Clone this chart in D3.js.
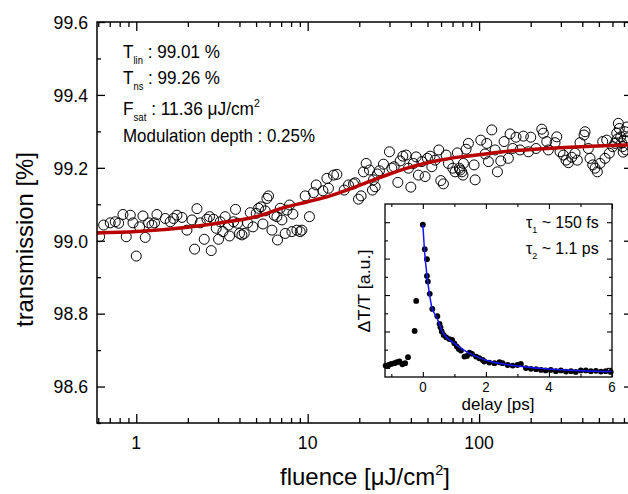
<!DOCTYPE html>
<html><head><meta charset="utf-8">
<script src="https://cdn.jsdelivr.net/npm/d3@7"></script>
<style>
body{margin:0;background:#fff}
svg{display:block}
text{font-family:"Liberation Sans", Arial, Helvetica, sans-serif; fill:#000}
</style>
</head><body>
<svg id="c" width="628" height="494"></svg>
<script>
// ---------- data ----------
const fluence = [0.611,0.645,0.705,0.754,0.789,0.836,0.874,0.923,0.957,1.0,1.045,1.094,1.128,1.18,1.235,1.278,1.32,1.476,1.578,1.65,
1.727,1.847,1.975,2.113,2.188,2.259,2.362,2.492,2.584,2.676,2.737,2.823,2.928,3.02,3.09,3.203,3.30,3.453,3.50,3.693,
3.793,3.896,4.002,4.133,4.264,4.457,4.621,4.792,5.009,5.166,5.335,5.481,5.653,5.783,5.909,6.185,6.379,6.614,6.668,6.915,
7.074,7.395,7.566,7.835,8.09,8.2,8.65,9.04,9.25,9.67,10.24,10.81,11.21,12.27,13.22,12.94,14.15,14.8,16.33,17.3,
18.5,18.9,19.78,20.5,21.94,21.16,22.93,23.87,24.19,24.75,25.53,26.22,27.67,29.99,30.97,31.95,33.57,34.63,35.91,37.53,
38.71,39.97,41.4,42.93,44.26,46.33,48.42,49.94,51.8,52.99,55.39,58.21,59.8,61.92,64.2,66.22,70.25,72.44,74.72,76.75,
77.5,79.3,80.5,81,84,86.6,93.5,94.8,102.3,108.4,110.9,113.3,118.6,124,127.9,133.8,139.9,148.2,151.6,157.2,
164.3,173.4,181.3,193.9,200.2,215,232.1,237.1,248.2,253.6,277.4,283.9,296.7,310.2,321.6,331.7,347.2,362.9,374.3,388.1,
409.5,415.1,433.8,443.8,460.3,474.7,489.6,507.6,526.4,542.9,555.4,575.2,602,620.9,635.2,641,649,657.9,670.3,679,
688.6,693,700.7,710.2,719.8,729.5,734];
const transmission = [99.011,99.043,99.049,99.052,99.048,99.072,99.011,99.070,99.049,98.958,99.038,99.068,99.009,99.049,99.043,99.049,99.072,99.061,99.052,99.061,
99.070,99.064,99.029,99.057,98.977,99.088,99.049,99.004,99.059,99.066,98.973,99.059,99.034,99.004,99.052,99.025,99.066,99.043,99.013,99.052,
99.086,99.048,99.020,99.016,99.020,99.049,99.077,99.038,99.075,99.089,99.093,99.046,99.082,99.116,99.123,99.029,99.070,99.066,99.002,99.089,
99.057,99.020,99.084,99.098,99.025,99.073,99.029,99.025,99.029,99.123,99.066,99.132,99.153,99.137,99.144,99.171,99.180,99.182,99.139,99.153,
99.156,99.159,99.114,99.123,99.212,99.189,99.194,99.139,99.167,99.148,99.183,99.192,99.210,99.244,99.199,99.203,99.160,99.219,99.232,99.235,
99.199,99.147,99.212,99.230,99.180,99.217,99.176,99.226,99.232,99.203,99.221,99.249,99.165,99.156,99.235,99.212,99.199,99.189,99.241,99.199,
99.194,99.189,99.180,99.212,99.251,99.267,99.208,99.167,99.276,99.238,99.267,99.217,99.304,99.249,99.189,99.219,99.272,99.226,99.293,99.253,
99.284,99.249,99.287,99.244,99.284,99.253,99.306,99.295,99.272,99.249,99.269,99.285,99.244,99.235,99.221,99.214,99.229,99.240,99.221,99.269,
99.290,99.299,99.253,99.226,99.208,99.199,99.189,99.212,99.272,99.226,99.276,99.240,99.258,99.267,99.295,99.279,99.322,99.308,99.285,99.268,
99.258,99.243,99.276,99.299,99.249,99.312,99.282];

const fitFluence = [0.59,1,2,3.4,5,7.4,10,13.5,17.7,24,30,38,48,59,78,100,151,200,296,450,780];
const fitTransmission = [99.021,99.025,99.037,99.052,99.066,99.092,99.107,99.123,99.142,99.166,99.183,99.199,99.212,99.221,99.230,99.236,99.246,99.250,99.255,99.259,99.263];

const delay = [-1.18,-1.08,-1.0,-0.9,-0.82,-0.74,-0.65,-0.56,-0.47,-0.26,-0.21,0,0.06,0.13,0.13,0.16,0.22,0.3,0.46,0.53,
0.56,0.6,0.66,0.74,0.84,0.93,1.0,1.08,1.14,1.21,1.32,1.4,1.48,1.56,1.69,1.79,1.9,1.95,2.11,2.27,
2.43,2.53,2.69,2.85,3.0,3.11,3.27,3.43,3.59,3.75,3.9,4.06,4.22,4.38,4.54,4.7,4.85,5.01,5.17,5.33,
5.49,5.65,5.8,5.96];
const dTT = [0.013,0.016,0.022,0.026,0.031,0.035,0.020,0.026,0.059,0.203,0.368,0.786,0.652,0.597,0.505,0.474,0.407,0.324,0.284,0.242,
0.223,0.200,0.181,0.168,0.158,0.154,0.135,0.117,0.104,0.095,0.062,0.066,0.084,0.077,0.062,0.053,0.044,0.035,0.029,0.026,
0.031,0.026,0.016,0.013,0.016,0.022,-0.001,-0.005,-0.007,-0.011,-0.014,-0.011,-0.018,-0.014,-0.020,-0.018,-0.022,-0.014,-0.014,-0.018,
-0.016,-0.020,-0.018,-0.022];
const fitDelay = [0,0.05,0.135,0.21,0.29,0.38,0.47,0.63,0.8,1.0,1.2,1.48,1.8,2.11,2.6,3,4,5,6];
const fitDTT = [0.786,0.652,0.502,0.407,0.33,0.295,0.265,0.195,0.16,0.135,0.108,0.08,0.055,0.036,0.02,0.011,-0.006,-0.015,-0.02];

const yTickValues = [98.6,98.8,99.0,99.2,99.4,99.6];
const xTickValues = [1,10,100];
const insetXTickValues = [0,2,4,6];

// ---------- setup ----------
const svg = d3.select('#c');
const P = {l:97, r:632, t:22, b:423};
const x = d3.scaleLog().domain([0.59, 780]).range([P.l, P.r]);
const y = d3.scaleLinear().domain([98.5, 99.6]).range([P.b, P.t]);

svg.append('defs').append('clipPath').attr('id','pc')
  .append('rect').attr('x',P.l).attr('y',P.t).attr('width',P.r-P.l).attr('height',P.b-P.t);

// text helper with sub/superscripts and width fitting
function label(parts, size, o) {
  const t = svg.append('text').attr('font-size', size).attr('x',0).attr('y',0);
  let cur = 0;
  parts.forEach(p => {
    const kind = p[1] || 'n';
    let off = 0, fs = size;
    if (kind === 'sub') { off = o.subOff || size*0.35; fs = o.subSize || size*0.55; }
    if (kind === 'sup') { off = -(o.supOff || size*0.42); fs = o.supSize || size*0.62; }
    const s = t.append('tspan').text(p[0]).attr('font-size', fs);
    if (off - cur !== 0) s.attr('dy', off - cur);
    cur = off;
  });
  const w = t.node().getComputedTextLength();
  const k = o.width ? o.width / w : (o.k || 1);
  const L = w * k;
  if (o.rotate) {
    t.attr('transform', `translate(${o.x},${o.y + L/2}) rotate(-90) scale(${k},1)`);
  } else {
    const a = o.anchor || 'start';
    const x0 = a === 'middle' ? o.x - L/2 : a === 'end' ? o.x - L : o.x;
    t.attr('transform', `translate(${x0},${o.y}) scale(${k},1)`);
  }
  return t;
}

// ---------- main data ----------
const pts = fluence.map((f,i) => [f, transmission[i]]);
svg.append('g').attr('clip-path','url(#pc)')
  .selectAll('circle').data(pts).join('circle')
  .attr('cx', d => x(d[0])).attr('cy', d => y(d[1])).attr('r', 5)
  .attr('fill','none').attr('stroke','#000').attr('stroke-width',1);

const fit = fitFluence.map((f,i) => [f, fitTransmission[i]]);
svg.append('path').attr('clip-path','url(#pc)')
  .datum(fit)
  .attr('d', d3.line().x(d => x(d[0])).y(d => y(d[1])).curve(d3.curveMonotoneX))
  .attr('fill','none').attr('stroke','#b80000').attr('stroke-width',3.5);

// ---------- main axes ----------
const allX = x.ticks().filter(v => v >= 0.59 && v <= 780);
const minorX = allX.filter(v => !xTickValues.includes(v));
const minorY = d3.range(98.5, 99.61, 0.1).map(v => +v.toFixed(1)).filter(v => !yTickValues.includes(v));

function styleAxis(g) {
  g.select('.domain').remove();
  g.selectAll('line').attr('stroke','#000').attr('stroke-width',1.3);
  g.selectAll('text').remove();
}
// bottom (ticks inward = up)
svg.append('g').attr('transform',`translate(0,${P.b})`)
  .call(d3.axisTop(x).tickValues(xTickValues).tickSize(9).tickFormat('')).call(styleAxis);
svg.append('g').attr('transform',`translate(0,${P.b})`)
  .call(d3.axisTop(x).tickValues(minorX).tickSize(5).tickFormat('')).call(styleAxis);
// top (ticks inward = down)
svg.append('g').attr('transform',`translate(0,${P.t})`)
  .call(d3.axisBottom(x).tickValues(xTickValues).tickSize(9).tickFormat('')).call(styleAxis);
svg.append('g').attr('transform',`translate(0,${P.t})`)
  .call(d3.axisBottom(x).tickValues(minorX).tickSize(5).tickFormat('')).call(styleAxis);
// left (inward = right)
svg.append('g').attr('transform',`translate(${P.l},0)`)
  .call(d3.axisRight(y).tickValues(yTickValues).tickSize(8).tickFormat('')).call(styleAxis);
svg.append('g').attr('transform',`translate(${P.l},0)`)
  .call(d3.axisRight(y).tickValues(minorY).tickSize(4).tickFormat('')).call(styleAxis);
// right (inward = left)
svg.append('g').attr('transform',`translate(${P.r},0)`)
  .call(d3.axisLeft(y).tickValues(yTickValues).tickSize(8).tickFormat('')).call(styleAxis);
svg.append('g').attr('transform',`translate(${P.r},0)`)
  .call(d3.axisLeft(y).tickValues(minorY).tickSize(4).tickFormat('')).call(styleAxis);

svg.append('rect').attr('x',P.l).attr('y',P.t).attr('width',P.r-P.l).attr('height',P.b-P.t)
  .attr('fill','none').attr('stroke','#000').attr('stroke-width',1.5);

// tick labels
yTickValues.forEach(v => label([[v.toFixed(1)]], 19, {x:88, y:y(v)+6.8, anchor:'end', k:0.93}));
xTickValues.forEach(v => label([[String(v)]], 19, {x:x(v), y:449, anchor:'middle', k:0.93}));

// axis titles
label([['fluence ['],['\u03BCJ/cm'],['2','sup'],[']']], 23, {x:365, y:485, anchor:'middle', width:170, supOff:10, supSize:14});
label([['transmission [%]']], 23, {x:33, y:239.5, rotate:true, width:175});

// annotations
label([['T'],['lin','sub'],[' : 99.01 %']], 18, {x:123, y:58, width:97, subOff:6, subSize:10});
label([['T'],['ns','sub'],[' : 99.26 %']], 18, {x:123, y:83.5, width:97, subOff:6, subSize:10});
label([['F'],['sat','sub'],[' : 11.36 \u03BCJ/cm'],['2','sup']], 18, {x:123, y:115, width:137, subOff:6, subSize:10, supOff:8, supSize:11});
label([['Modulation depth : 0.25%']], 18, {x:123, y:141.7, width:192});

// ---------- inset ----------
const I = {l:385, r:612, t:204, b:377};
const ix = d3.scaleLinear().domain([-1.2, 6]).range([I.l, I.r]);
const iy = d3.scaleLinear().domain([-0.05, 0.9]).range([I.b, I.t]);

svg.append('rect').attr('x',I.l).attr('y',I.t).attr('width',I.r-I.l).attr('height',I.b-I.t)
  .attr('fill','#fff');

svg.append('g').selectAll('circle').data(delay.map((d,i)=>[d,dTT[i]])).join('circle')
  .attr('cx', d => ix(d[0])).attr('cy', d => iy(d[1])).attr('r', 2.9).attr('fill','#000');

svg.append('path').datum(fitDelay.map((d,i)=>[d,fitDTT[i]]))
  .attr('d', d3.line().x(d => ix(d[0])).y(d => iy(d[1])).curve(d3.curveMonotoneX))
  .attr('fill','none').attr('stroke','#1414ff').attr('stroke-width',1.5);

const iMinorX = d3.range(-1, 7, 1).filter(v => !insetXTickValues.includes(v));
const iYMajor = [0, 0.2, 0.4, 0.6, 0.8];
const iYMinor = [0.1, 0.3, 0.5, 0.7];
function styleI(g){ g.select('.domain').remove(); g.selectAll('line').attr('stroke','#000').attr('stroke-width',1.1); g.selectAll('text').remove(); }
[[d3.axisTop, I.b],[d3.axisBottom, I.t]].forEach(([ax,pos]) => {
  svg.append('g').attr('transform',`translate(0,${pos})`).call(ax(ix).tickValues(insetXTickValues).tickSize(5).tickFormat('')).call(styleI);
  svg.append('g').attr('transform',`translate(0,${pos})`).call(ax(ix).tickValues(iMinorX).tickSize(3).tickFormat('')).call(styleI);
});
[[d3.axisRight, I.l],[d3.axisLeft, I.r]].forEach(([ax,pos]) => {
  svg.append('g').attr('transform',`translate(${pos},0)`).call(ax(iy).tickValues(iYMajor).tickSize(5).tickFormat('')).call(styleI);
  svg.append('g').attr('transform',`translate(${pos},0)`).call(ax(iy).tickValues(iYMinor).tickSize(3).tickFormat('')).call(styleI);
});
svg.append('rect').attr('x',I.l).attr('y',I.t).attr('width',I.r-I.l).attr('height',I.b-I.t)
  .attr('fill','none').attr('stroke','#000').attr('stroke-width',1.3);

insetXTickValues.forEach(v => label([[String(v)]], 14, {x:ix(v), y:392, anchor:'middle', k:0.95}));
label([['delay [ps]']], 16, {x:498, y:410, anchor:'middle', width:73});
label([['\u0394T/T [a.u.]']], 16, {x:370, y:291, rotate:true, width:83});
label([['\u03C4'],['1','sub'],[' ~ 150 fs']], 16, {x:526, y:228, width:72.7, subOff:5, subSize:9});
label([['\u03C4'],['2','sub'],[' ~ 1.1 ps']], 16, {x:526, y:254, width:72.7, subOff:5, subSize:9});
</script>
</body></html>
